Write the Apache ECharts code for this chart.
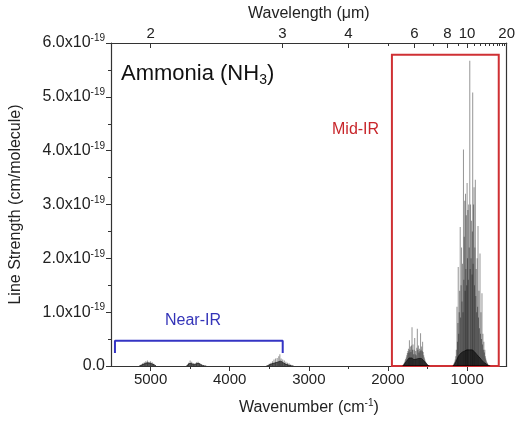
<!DOCTYPE html>
<html><head><meta charset="utf-8">
<script src="https://cdn.jsdelivr.net/npm/echarts@6/dist/echarts.min.js"></script>
<style>html,body{margin:0;padding:0;background:#fff}#c{width:518px;height:423px}</style>
</head><body><div id="c"></div>
<script>
// Line strengths in units of 1e-19 cm/molecule
const nu2Wn = [1180,1172,1165,1158,1150,1143,1136,1128,1122,1116,1112,1106,1100,1094,1087,1082,1076,1070,1064,1058,1052,1046,1041,1036,1030,1025,1020,1015,1010,1005,1000,995,990,985,980,973,966,961,956,950,945,938,933,929,924,918,912,907,902,896,890,885,879,873,867,862,856,850,844,837,831,825,818,812,806,800,794,788,782,776,770,764,757,750,742,733,722,710];
const nu2S  = [0.01,0.03,0.05,0.08,0.12,0.18,0.3,1.1,0.45,0.8,1.84,0.6,1.0,1.4,2.58,0.9,1.5,2.2,1.2,1.9,1.0,4.02,1.6,2.4,3.07,1.4,3.2,1.8,2.8,1.5,3.4,2.0,2.9,1.6,3.0,2.2,5.67,1.8,3.0,2.0,2.7,1.7,2.5,5.08,1.9,3.0,3.32,1.5,2.2,3.46,1.3,1.8,1.0,2.0,1.1,2.6,0.9,1.4,0.7,2.09,0.6,1.0,0.5,1.35,0.4,0.6,0.3,0.45,0.25,0.3,0.18,0.14,0.1,0.07,0.05,0.03,0.02,0.01];
const nu4Wn = [1815,1805,1797,1790,1783,1776,1769,1762,1755,1748,1741,1735,1729,1723,1716,1710,1703,1696,1690,1683,1676,1670,1662,1656,1650,1643,1636,1629,1622,1615,1608,1601,1595,1588,1582,1575,1568,1562,1555,1548,1541,1534,1527,1520,1512,1503,1492,1480];
const nu4S  = [0.01,0.03,0.05,0.07,0.1,0.13,0.16,0.2,0.24,0.28,0.32,0.25,0.48,0.3,0.36,0.26,0.38,0.72,0.3,0.4,0.22,0.3,0.52,0.22,0.28,0.2,0.34,0.69,0.3,0.38,0.25,0.32,0.28,0.61,0.3,0.36,0.28,0.45,0.26,0.2,0.16,0.12,0.09,0.07,0.05,0.03,0.02,0.01];
const nirWn = [5140,5120,5100,5080,5060,5040,5020,5000,4980,4960,4940, 4540,4520,4500,4480,4460,4440,4420,4400,4380,4360,4330,4300, 3530,3500,3480,3460,3440,3420,3400,3380,3366,3350,3330,3310,3290,3270,3250,3230,3200];
const nirS  = [0.01,0.03,0.05,0.07,0.09,0.1,0.08,0.09,0.07,0.04,0.02, 0.02,0.06,0.1,0.08,0.05,0.04,0.07,0.08,0.05,0.03,0.02,0.01, 0.02,0.04,0.06,0.09,0.12,0.14,0.15,0.18,0.22,0.14,0.12,0.1,0.08,0.06,0.05,0.03,0.02];
// Envelopes of the dense weak-line cores (dark fill)
const nu2Env = [[1178,0],[1160,0.03],[1145,0.07],[1130,0.12],[1110,0.18],[1090,0.22],[1060,0.26],[1030,0.28],[1000,0.3],[970,0.3],[940,0.3],[910,0.27],[880,0.22],[850,0.17],[820,0.12],[790,0.07],[760,0.04],[735,0.015],[712,0]];
const nu4Env = [[1812,0],[1790,0.04],[1770,0.08],[1750,0.12],[1730,0.15],[1700,0.15],[1670,0.12],[1640,0.13],[1610,0.14],[1580,0.14],[1550,0.1],[1520,0.05],[1490,0.01],[1476,0]];
const nirEnv1 = [[5140,0],[5080,0.04],[5040,0.06],[5000,0.05],[4950,0.02],[4930,0]];
const nirEnv2 = [[4545,0],[4500,0.05],[4450,0.03],[4400,0.05],[4340,0.01],[4300,0]];
const nirEnv3 = [[3530,0],[3470,0.04],[3400,0.07],[3360,0.09],[3300,0.04],[3250,0.015],[3200,0]];
const bottomTicks = [1000,2000,3000,4000,5000];
const bottomMinor = [1500,2500,3500,4500];
const topMajorUm = [2,3,4,6,8,10,20];
const topMinorUm = [5,7,9,11,12,13,14,15,16,17,18,19];
const midIRBox = [[1950,0],[600,5.78]];
const nearIRBracket = [[5450,0.24],[5450,0.47],[3330,0.47],[3330,0.24]];

const sticks = [];
nu2Wn.forEach((w,i)=>sticks.push([w,nu2S[i]]));
nu4Wn.forEach((w,i)=>sticks.push([w,nu4S[i]]));
nirWn.forEach((w,i)=>sticks.push([w,nirS[i]]));

const txt = '#222';
const axc = '#333';
const font = 'Liberation Sans, Arial, sans-serif';
const chart = echarts.init(document.getElementById('c'));
const baseX = {type:'value',min:500,max:5500,inverse:true,splitLine:{show:false}};
const envSeries = [nu2Env,nu4Env,nirEnv1,nirEnv2,nirEnv3].map(d=>({
  type:'line',data:d,symbol:'none',silent:true,smooth:0.3,
  lineStyle:{width:0.6,color:'#000'},areaStyle:{color:'rgba(0,0,0,0.85)',origin:'start'}}));
chart.setOption({
  animation:false,
  textStyle:{fontFamily:font},
  grid:{left:109,right:10,top:43,bottom:57},
  title:{text:'{a|Ammonia (NH}{s|3}{a|)}',left:116,top:56,
    textStyle:{rich:{a:{fontSize:22,fontWeight:'normal',color:'#111',fontFamily:font,lineHeight:26},s:{fontSize:14,fontWeight:'normal',color:'#111',fontFamily:font,verticalAlign:'bottom',lineHeight:26,padding:[18,0,0,0]}}}},
  xAxis:[
    Object.assign({},baseX,{position:'bottom',
      name:'{n|Wavenumber (cm}{s|-1}{n|)}',nameLocation:'middle',nameGap:32,
      nameTextStyle:{rich:{n:{fontSize:16,color:txt,fontFamily:font},s:{fontSize:10,color:txt,fontFamily:font,verticalAlign:'top',padding:[0,0,9,0]}}},
      axisLine:{lineStyle:{color:axc,width:1.2}},
      axisTick:{customValues:bottomTicks,length:5,lineStyle:{color:axc}},
      axisLabel:{customValues:bottomTicks,formatter:v=>String(v),fontSize:15,color:txt,margin:6}}),
    Object.assign({},baseX,{position:'bottom',axisLine:{show:false},
      axisTick:{customValues:bottomMinor,length:3,lineStyle:{color:axc}},
      axisLabel:{show:false}}),
    Object.assign({},baseX,{position:'top',
      name:'Wavelength (μm)',nameLocation:'middle',nameGap:19,
      nameTextStyle:{fontSize:16,color:txt},
      axisLine:{lineStyle:{color:axc,width:1.2}},
      axisTick:{inside:true,customValues:topMajorUm.map(u=>10000/u),length:5,lineStyle:{color:axc}},
      axisLabel:{customValues:topMajorUm.map(u=>10000/u),formatter:v=>String(Math.round(10000/v)),fontSize:15,color:txt,margin:2}}),
    Object.assign({},baseX,{position:'top',axisLine:{show:false},
      axisTick:{inside:true,customValues:topMinorUm.map(u=>10000/u),length:3,lineStyle:{color:axc}},
      axisLabel:{show:false}})
  ],
  yAxis:[
    {type:'value',min:0,max:6,interval:1,position:'left',splitLine:{show:false},
     name:'Line Strength (cm/molecule)',nameLocation:'middle',nameGap:87,nameRotate:90,
     nameTextStyle:{fontSize:16,color:txt},
     axisLine:{show:true,lineStyle:{color:axc,width:1.2}},
     axisTick:{show:true,length:5,lineStyle:{color:axc}},
     minorTick:{show:true,splitNumber:2,length:3,lineStyle:{color:axc}},
     axisLabel:{margin:6,formatter:v=>v===0?'{b|0.0}':'{b|'+v.toFixed(1)+'x10}{s|-19}',
       rich:{b:{fontSize:16,color:txt,fontFamily:font},s:{fontSize:10,color:txt,fontFamily:font,verticalAlign:'top',padding:[0,0,9,0]}}}},
    {type:'value',min:0,max:6,position:'right',splitLine:{show:false},
     axisLine:{show:true,lineStyle:{color:axc,width:1.2}},axisTick:{show:false},axisLabel:{show:false}}
  ],
  series:[
    {type:'bar',data:sticks,barWidth:1,silent:true,itemStyle:{color:'rgba(0,0,0,0.42)'},
     markArea:{silent:true,itemStyle:{color:'rgba(0,0,0,0)',borderColor:'#cf3034',borderWidth:2},
       data:[[{coord:midIRBox[0]},{coord:midIRBox[1]}]]}},
    {type:'line',data:nearIRBracket,symbol:'none',silent:true,lineStyle:{color:'#3434c4',width:2}}
  ].concat(envSeries),
  graphic:[
    {type:'text',left:332,top:122,style:{text:'Mid-IR',fontSize:16,fill:'#c8262b',fontFamily:font}},
    {type:'text',left:165,top:313,style:{text:'Near-IR',fontSize:16,fill:'#3434b8',fontFamily:font}}
  ]
});
</script></body></html>
